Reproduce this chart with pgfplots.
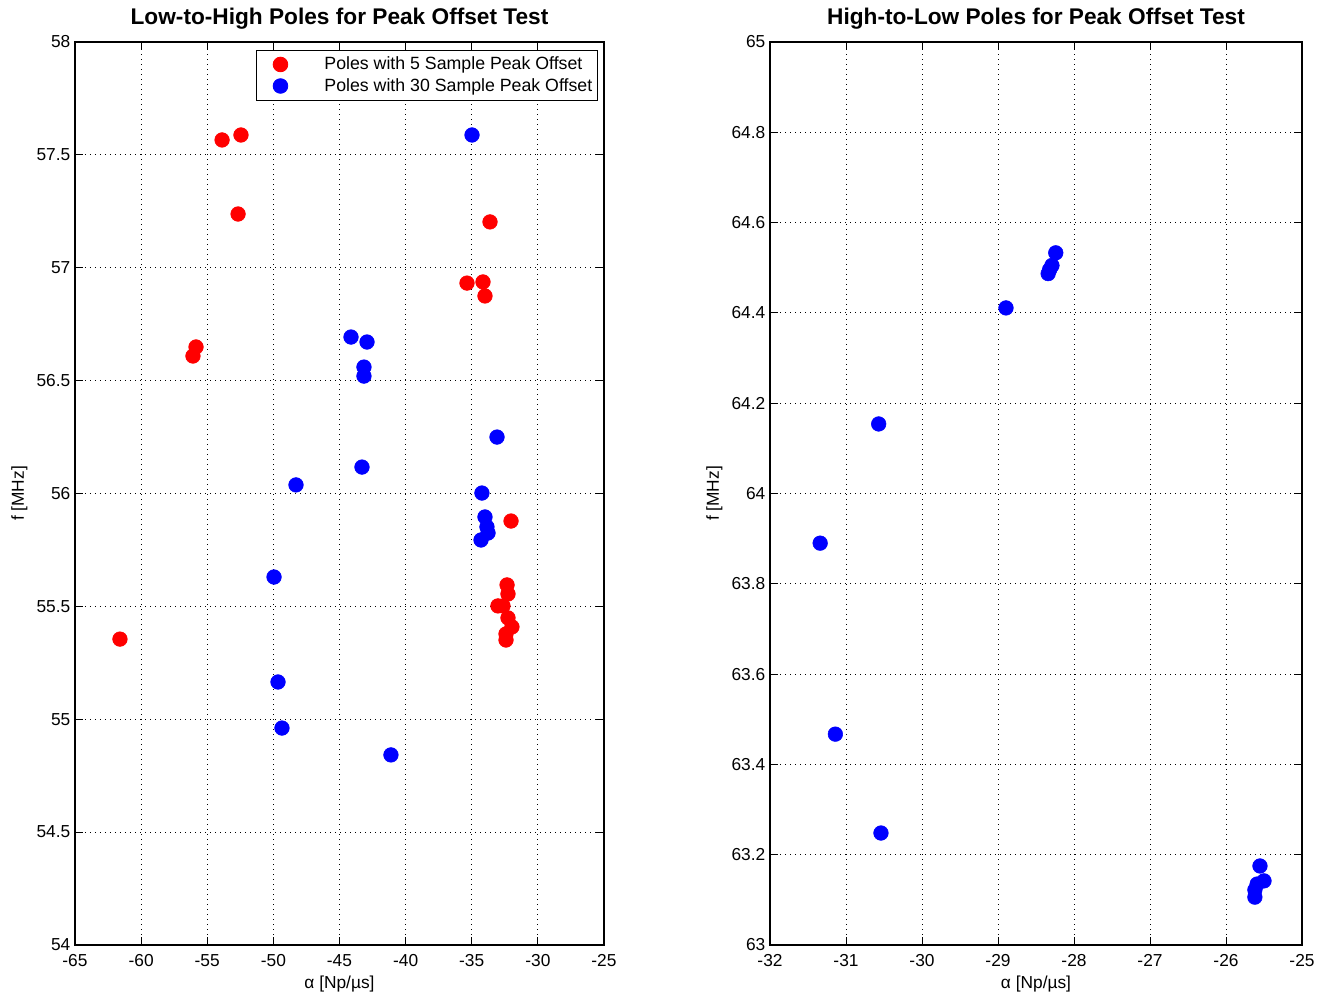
\documentclass[border=0pt]{standalone}
\usepackage{pgfplots}
\pgfplotsset{compat=1.18}
\usepackage{fontspec}
\setmainfont{Liberation Sans}

\begin{document}
\begin{tikzpicture}
\useasboundingbox (-56.25pt,-36.75pt) rectangle (936pt,708.75pt);
\pgfplotsset{
 mystyle/.style={
  height=677.25pt, scale only axis,
  tick align=inside, tick pos=both,
  major tick length=6pt,
  grid=major, grid style={black, line width=0.6pt, dash pattern=on 0.75pt off 3pt},
  axis line style={line width=0.8pt},
  every tick/.style={black, line width=0.6pt},
  tick label style={font=\fontsize{13}{15.6}\selectfont},
  xticklabel style={yshift=-3.5pt},
  label style={font=\fontsize{13}{15.6}\selectfont},
  title style={font=\fontsize{17}{20}\selectfont\bfseries},
  /pgf/number format/assume math mode=true,
  scaled ticks=false,
  xlabel={α [Np/µs]}, ylabel={f [MHz]},
 },
 mymark/.style={only marks, mark=*, mark size=5.5pt, mark options={fill=#1, draw=#1}},
}
\begin{axis}[mystyle, at={(0pt,0pt)}, width=396.75pt,
  title={Low-to-High Poles for Peak Offset Test},
  xmin=-65, xmax=-25, ymin=54, ymax=58,
  xtick={-65,-60,...,-25}, ytick={54,54.5,...,58},
  legend style={at={(1,1)}, anchor=north east, xshift=-4.5pt, yshift=-6pt,
    draw=black, line width=0.6pt, font=\fontsize{13.3}{16}\selectfont,
    cells={anchor=west}, inner xsep=2pt, inner ysep=3pt, row sep=1pt},
  legend image code/.code={\path[draw=none] (0pt,-4pt) rectangle (47pt,4pt); \draw[#1] plot coordinates {(16pt,0pt)};},
]
\addplot[mymark=red] coordinates {
(-53.88,57.566) (-52.45,57.588) (-52.67,57.238) (-33.62,57.203)
(-35.36,56.932) (-34.15,56.937) (-34.00,56.875) (-55.85,56.649)
(-56.08,56.609) (-32.03,55.878) (-32.33,55.595) (-32.26,55.555)
(-33.02,55.502) (-32.64,55.502) (-32.26,55.449) (-31.96,55.409)
(-32.41,55.378) (-32.41,55.351) (-61.60,55.355)
};
\addlegendentry{Poles with 5 Sample Peak Offset}
\addplot[mymark=blue] coordinates {
(-34.98,57.588) (-44.13,56.693) (-42.92,56.671) (-43.15,56.560)
(-43.15,56.520) (-33.09,56.250) (-43.30,56.117) (-48.29,56.038)
(-34.23,56.002) (-34.00,55.896) (-33.85,55.852) (-33.77,55.825)
(-34.30,55.794) (-49.95,55.630) (-49.65,55.165) (-49.35,54.961)
(-41.11,54.842)
};
\addlegendentry{Poles with 30 Sample Peak Offset}
\end{axis}
\begin{axis}[mystyle, at={(521.25pt,0pt)}, width=399pt,
  title={High-to-Low Poles for Peak Offset Test},
  xmin=-32, xmax=-25, ymin=63, ymax=65,
  xtick={-32,-31,...,-25}, ytick={63,63.2,...,65.01},
]
\addplot[mymark=blue] coordinates {
(-28.24,64.533) (-28.29,64.505) (-28.32,64.496) (-28.34,64.487)
(-28.895,64.411) (-30.57,64.154) (-31.34,63.890) (-31.14,63.467)
(-30.54,63.248) (-25.553,63.175) (-25.50,63.142) (-25.59,63.135)
(-25.62,63.122) (-25.62,63.106)
};
\end{axis}
\end{tikzpicture}
\end{document}
